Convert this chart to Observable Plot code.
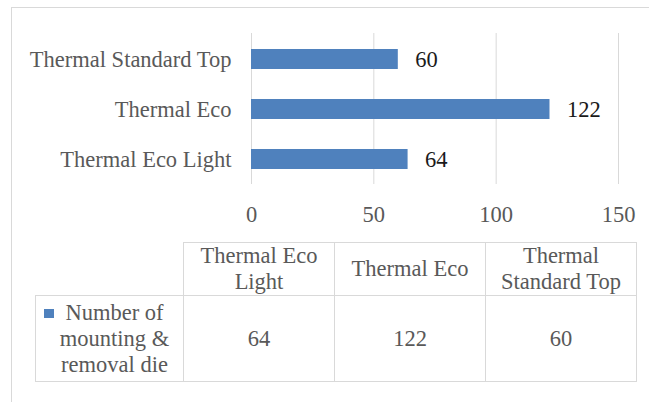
<!DOCTYPE html>
<html>
<head>
<meta charset="utf-8">
<script src="https://cdn.jsdelivr.net/npm/d3@7"></script>
<script src="https://cdn.jsdelivr.net/npm/@observablehq/plot@0.6"></script>
<style>
  html, body { margin: 0; padding: 0; background: #fff; }
  #wrap { position: relative; width: 649px; height: 402px; overflow: hidden; background: #fff;
          font-family: "Liberation Serif", "Times New Roman", serif; }
  #frame { position: absolute; left: 11px; top: 7px; width: 700px; height: 500px;
           border: 1px solid #d9d9d9; box-sizing: border-box; }
  #chart { position: absolute; left: 0; top: 0; }
  #tbl { position: absolute; left: 35px; top: 242px; border-collapse: collapse; table-layout: fixed;
         font-family: "Liberation Serif", "Times New Roman", serif; font-size: 22.5px; line-height: 26px; color: #595959; }
  #tbl td { border: 1px solid #d9d9d9; text-align: center; vertical-align: middle; padding: 0 4px; }
  #tbl td.blank { border-top: none; border-left: none; }
  #tbl td.legend { position: relative; padding: 0 9px 0 19px; }
  #tbl .swatch { position: absolute; left: 8px; top: 13px; width: 10px; height: 9px; background: #4f81bd; }
</style>
</head>
<body>
<div id="wrap">
  <div id="frame"></div>
  <div id="chart"></div>
  <table id="tbl"></table>
</div>
<script>
// ---- data ----
const categories = ["Thermal Eco Light", "Thermal Eco", "Thermal Standard Top"];
const values = [64, 122, 60];
const xTicks = [0, 50, 100, 150];
const seriesName = "Number of mounting & removal die";

const data = categories.map((c, i) => ({category: c, value: values[i]}));
const barColor = "#4f81bd";

const chart = Plot.plot({
  width: 649,
  height: 232,
  marginLeft: 251,
  marginRight: 31,
  marginTop: 33,
  marginBottom: 48,
  style: {fontFamily: "'Liberation Serif', 'Times New Roman', serif", fontSize: "22.5px", color: "#595959", background: "transparent"},
  x: {domain: [0, 150], label: null},
  y: {domain: categories.slice().reverse(), paddingInner: 0.6, paddingOuter: 0.29, label: null},
  marks: [
    Plot.gridX(xTicks, {stroke: "#d9d9d9", strokeOpacity: 1, strokeWidth: 1}),
    Plot.barX(data, {x: "value", y: "category", fill: barColor}),
    Plot.text(data, {x: "value", y: "category", text: d => String(d.value), dx: 17, textAnchor: "start", fill: "#1a1a1a", fontSize: 22.5}),
    Plot.axisX(xTicks, {tickSize: 0, tickPadding: 22, label: null, fill: "#595959"}),
    Plot.axisY({tickSize: 0, tickPadding: 20, label: null, fill: "#595959"})
  ]
});
document.getElementById("chart").appendChild(chart);

// ---- data table ----
const tbl = document.getElementById("tbl");
const colWidths = [148, 151, 151, 151];
const cg = document.createElement("colgroup");
colWidths.forEach(w => { const c = document.createElement("col"); c.style.width = w + "px"; cg.appendChild(c); });
tbl.appendChild(cg);

const hr = document.createElement("tr");
hr.style.height = "51px";
const blank = document.createElement("td"); blank.className = "blank"; hr.appendChild(blank);
categories.forEach(c => { const td = document.createElement("td"); td.textContent = c; hr.appendChild(td); });
tbl.appendChild(hr);

const br = document.createElement("tr");
br.style.height = "86px";
const lg = document.createElement("td"); lg.className = "legend";
const sw = document.createElement("span"); sw.className = "swatch"; lg.appendChild(sw);
lg.appendChild(document.createTextNode(seriesName));
br.appendChild(lg);
values.forEach(v => { const td = document.createElement("td"); td.textContent = v; br.appendChild(td); });
tbl.appendChild(br);
</script>
</body>
</html>
